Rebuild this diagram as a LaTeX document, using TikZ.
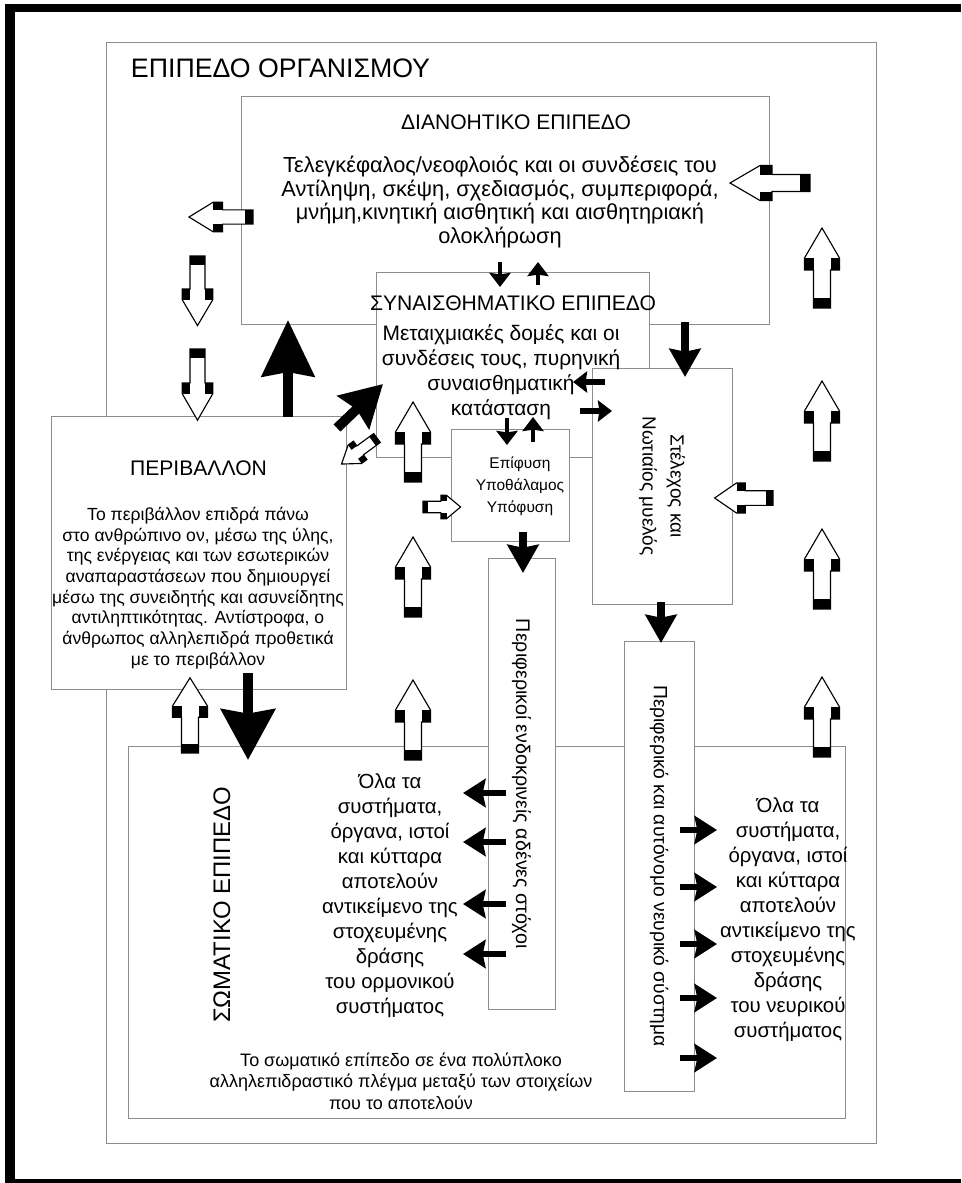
\documentclass[tikz,border=0pt]{standalone}
\usepackage{fontspec}
\setmainfont{Liberation Sans}
\usetikzlibrary{arrows.meta}

\tikzset{
  hollow/.pic={
    \filldraw[fill=white, line width=0.8pt]
      (0,-8.5) -- (38,-8.5) -- (38,-17.5) -- (50,-17.5) -- (80,0)
      -- (50,17.5) -- (38,17.5) -- (38,8.5) -- (0,8.5) -- cycle;
    \fill (0,-8.5) rectangle (10,8.5);
    \fill (38,-17.5) rectangle (50,-8.5);
    \fill (38,8.5) rectangle (50,17.5);
  }
}

\begin{document}
\begin{tikzpicture}[x=0.025cm, y=-0.025cm,
    box/.style={draw=black!45, line width=0.6pt, fill=white, inner sep=0pt},
    ttl/.style={font=\fontsize{15}{18}\selectfont},
    body/.style={align=center, inner sep=0pt},
    big/.style={line width=7pt, -{Stealth[length=40pt, width=37pt, inset=3pt]}},
    mid/.style={line width=5.5pt, -{Stealth[length=20pt, width=22pt, inset=2pt]}},
    side/.style={line width=4.3pt, -{Stealth[length=16pt, width=20pt, inset=2pt]}},
    tiny/.style={line width=3pt, -{Stealth[length=10pt, width=15pt, inset=1pt]}}]
  \useasboundingbox (0,0) rectangle (961,1183);
  \fill (5,4) rectangle (961,12);
  \fill (5,4) rectangle (15,1183);
  \fill (5,1179) rectangle (961,1183);

  \node[box, minimum width=19.225cm, minimum height=27.5cm] (org) at (491.5,593) {};
  \node[box, minimum width=13.2cm, minimum height=5.7cm] (cog) at (505,210) {};
  \node[box, minimum width=6.825cm, minimum height=4.625cm] (emo) at (512.5,364.5) {};
  \node[box, rotate=-90, minimum width=5.9cm, minimum height=3.5cm, align=center,
        font=\fontsize{13.5}{20}\selectfont] (stem) at (662,486) {Στέλεχος και\\Νωτιαίος μυελός};
  \node[box, minimum width=2.95cm, minimum height=2.8cm] (hypo) at (510,485) {};
  \node[box, minimum width=7.375cm, minimum height=6.825cm] (env) at (198.5,552.5) {};
  \node[box, minimum width=17.9cm, minimum height=9.3cm] (som) at (487,932) {};
  \node[box, rotate=-90, minimum width=11.275cm, minimum height=1.675cm,
        font=\fontsize{14}{17}\selectfont] (endo) at (521.5,784) {Περιφερικοί ενδοκρινείς αδένες στόχοι};
  \node[box, rotate=-90, minimum width=11.25cm, minimum height=1.75cm,
        font=\fontsize{13.7}{17}\selectfont] (nerv) at (659,866) {Περιφερικό και αυτόνομο νευρικό σύστημα};

  \node[anchor=base west, font=\fontsize{19}{22}\selectfont] (orgttl) at (126,78) {ΕΠΙΠΕΔΟ ΟΡΓΑΝΙΣΜΟΥ};
  \node[ttl, anchor=base] (cogttl) at (516,130) {ΔΙΑΝΟΗΤΙΚΟ ΕΠΙΠΕΔΟ};
  \node[body, font=\fontsize{15.5}{16.8}\selectfont] (cogtxt) at (500,202)
    {Τελεγκέφαλος/νεοφλοιός και οι συνδέσεις του\\Αντίληψη, σκέψη, σχεδιασμός, συμπεριφορά,\\μνήμη,κινητική αισθητική και αισθητηριακή\\ολοκλήρωση};
  \node[ttl, anchor=base] (emottl) at (513,310) {ΣΥΝΑΙΣΘΗΜΑΤΙΚΟ ΕΠΙΠΕΔΟ};
  \node[body, font=\fontsize{14.9}{17.8}\selectfont] (emotxt) at (501,372)
    {Μεταιχμιακές δομές και οι\\συνδέσεις τους, πυρηνική\\συναισθηματική\\κατάσταση};
  \node[body, font=\fontsize{11}{15.6}\selectfont] (hypotxt) at (520,486) {Επίφυση\\Υποθάλαμος\\Υπόφυση};
  \node[ttl, anchor=base] (envttl) at (198.5,475) {ΠΕΡΙΒΑΛΛΟΝ};
  \node[body, font=\fontsize{12.5}{14.7}\selectfont] (envtxt) at (198,588)
    {Το περιβάλλον επιδρά πάνω\\στο ανθρώπινο ον, μέσω της ύλης,\\της ενέργειας και των εσωτερικών\\αναπαραστάσεων που δημιουργεί\\μέσω της συνειδητής και ασυνείδητης\\αντιληπτικότητας. Αντίστροφα, ο\\άνθρωπος αλληλεπιδρά προθετικά\\με το περιβάλλον};
  \node[rotate=90, font=\fontsize{17}{20}\selectfont] (somttl) at (222,905) {ΣΩΜΑΤΙΚΟ ΕΠΙΠΕΔΟ};
  \node[body, font=\fontsize{14.5}{17.8}\selectfont] (somleft) at (390,896)
    {Όλα τα\\συστήματα,\\όργανα, ιστοί\\και κύτταρα\\αποτελούν\\αντικείμενο της\\στοχευμένης\\δράσης\\του ορμονικού\\συστήματος};
  \node[body, font=\fontsize{14.5}{17.8}\selectfont] (somright) at (788,920)
    {Όλα τα\\συστήματα,\\όργανα, ιστοί\\και κύτταρα\\αποτελούν\\αντικείμενο της\\στοχευμένης\\δράσης\\του νευρικού\\συστήματος};
  \node[body, font=\fontsize{12.8}{15.2}\selectfont] (somtxt) at (401,1081)
    {Το σωματικό επίπεδο σε ένα πολύπλοκο\\αλληλεπιδραστικό πλέγμα μεταξύ των στοιχείων\\που το αποτελούν};

  \pic[rotate=180, xscale=0.8, yscale=0.84] at (253,217) {hollow};
  \pic[rotate=180] at (810,183) {hollow};
  \pic[rotate=-90, xscale=0.87, yscale=0.88] at (197.5,256) {hollow};
  \pic[rotate=-90, xscale=0.89, yscale=0.88] at (197.5,349) {hollow};
  \foreach \y in {308,461,609,757}
    \pic[rotate=90] at (822,\y) {hollow};
  \foreach \y in {482,617,760}
    \pic[rotate=90] at (413,\y) {hollow};
  \pic[rotate=90, xscale=0.94] at (190,753) {hollow};
  \pic[xscale=0.47, yscale=0.67] at (423,507) {hollow};
  \pic[rotate=180, xscale=0.73, yscale=0.86] at (773,498) {hollow};
  \pic[rotate=216.3, xscale=0.55, yscale=0.65] at (377,438) {hollow};

  \coordinate (envup) at (288,417);  \coordinate (cogin) at (288,320);
  \coordinate (envdg) at (337,428);  \coordinate (emoin) at (383,384);
  \coordinate (envdn) at (248,673);  \coordinate (somin) at (248,760);
  \coordinate (cogdn) at (685,322);  \coordinate (stemin) at (685,377);
  \coordinate (hypodn) at (523,532); \coordinate (endoin) at (523,573);
  \coordinate (stemdn) at (661,602); \coordinate (nervin) at (661,643);
  \coordinate (cog1) at (500,262);   \coordinate (emo1) at (500,287);
  \coordinate (emo2) at (538,285);   \coordinate (cog2) at (538,262);
  \coordinate (emo3) at (507,418);   \coordinate (hypo1) at (507,445);
  \coordinate (hypo2) at (533,442);  \coordinate (emo4) at (533,417);
  \coordinate (stem1) at (605,382);  \coordinate (emo5) at (573,382);
  \coordinate (emo6) at (580,411);   \coordinate (stem2) at (612,411);
  \draw[big] (envup) -- (cogin);
  \draw[big, -{Stealth[length=29pt, width=32pt, inset=3pt]}] (envdg) -- (emoin);
  \draw[big, -{Stealth[length=36pt, width=38pt, inset=3pt]}] (envdn) -- (somin);
  \draw[mid] (cogdn) -- (stemin);
  \draw[mid, line width=5pt] (hypodn) -- (endoin);
  \draw[mid, line width=5pt] (stemdn) -- (nervin);
  \draw[tiny] (cog1) -- (emo1);
  \draw[tiny] (emo2) -- (cog2);
  \draw[tiny] (emo3) -- (hypo1);
  \draw[tiny] (hypo2) -- (emo4);
  \draw[tiny, line width=3.6pt] (stem1) -- (emo5);
  \draw[tiny, line width=3.6pt] (emo6) -- (stem2);
  \foreach \y [count=\i] in {793,842,904,954} {
    \coordinate (endo\i) at (506,\y);
    \coordinate (soml\i) at (463,\y);
    \draw[side] (endo\i) -- (soml\i);
  }
  \foreach \y [count=\i] in {830,887,944,998,1058} {
    \coordinate (nerv\i) at (680,\y);
    \coordinate (somr\i) at (717,\y);
    \draw[side] (nerv\i) -- (somr\i);
  }
\end{tikzpicture}
\end{document}
